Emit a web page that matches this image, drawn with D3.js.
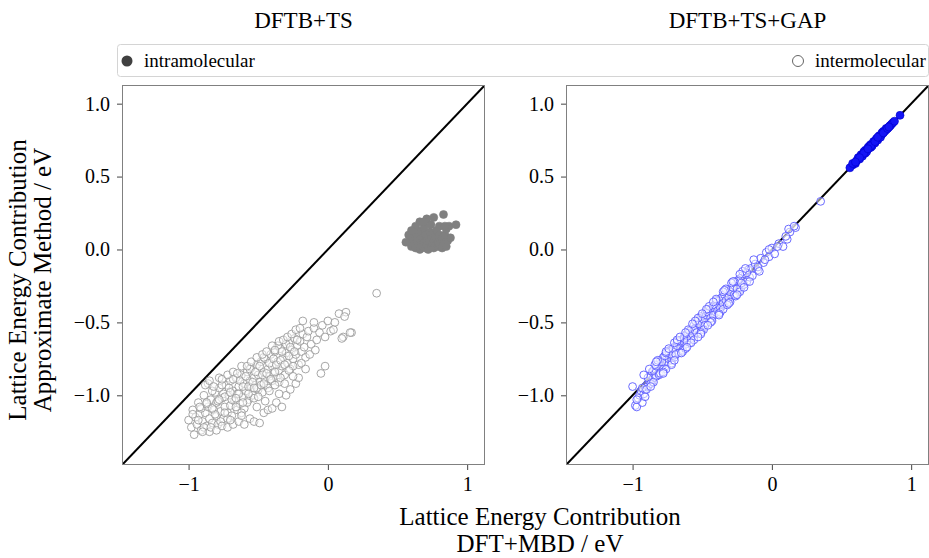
<!DOCTYPE html>
<html>
<head>
<meta charset="utf-8">
<script src="https://cdn.jsdelivr.net/npm/d3@7"></script>
<style>
  body { margin: 0; background: #fff; }
  svg { display: block; font-family: "Liberation Serif", "DejaVu Serif", serif; }
</style>
</head>
<body>
<div id="chart"></div>
<script>
// intermolecular contributions: DFT+MBD reference, DFTB+TS, DFTB+TS+GAP (eV)
const interDft = [
  -1.00,-0.98,-0.97,-0.96,-0.95,-0.94,-0.93,-0.92,-0.91,-0.90,
  -0.89,-0.88,-0.87,-0.86,-0.86,-0.85,-0.84,-0.83,-0.82,-0.81,
  -0.80,-0.80,-0.79,-0.78,-0.77,-0.76,-0.75,-0.75,-0.74,-0.73,
  -0.72,-0.71,-0.70,-0.70,-0.69,-0.68,-0.67,-0.66,-0.65,-0.65,
  -0.64,-0.63,-0.62,-0.61,-0.60,-0.60,-0.59,-0.58,-0.57,-0.56,
  -0.55,-0.55,-0.54,-0.53,-0.52,-0.51,-0.50,-0.50,-0.49,-0.48,
  -0.47,-0.46,-0.45,-0.45,-0.44,-0.43,-0.42,-0.41,-0.40,-0.40,
  -0.39,-0.38,-0.37,-0.36,-0.35,-0.34,-0.33,-0.32,-0.31,-0.30,
  -0.29,-0.28,-0.27,-0.26,-0.25,-0.24,-0.23,-0.22,-0.21,-0.20,
  -0.19,-0.18,-0.17,-0.16,-0.15,-0.14,-0.12,-0.10,-0.08,-0.06,
  -0.04,-0.02,0.00,0.02,0.05,0.08,0.11,0.13,0.17,0.35,
  -0.05,-0.02,0.04,0.10,0.12,0.16,-0.18,-0.10,
  -0.93,-0.91,-0.89,-0.87,-0.85,-0.83,-0.81,-0.79,-0.77,-0.76,
  -0.74,-0.72,-0.71,-0.69,-0.68,-0.66,-0.64,-0.63,-0.62,-0.61,
  -0.59,-0.58,-0.57,-0.56,-0.54,-0.53,-0.52,-0.51,-0.49,-0.48,
  -0.47,-0.46,-0.44,-0.43,-0.42,-0.41,-0.39,-0.38,-0.37,-0.36,
  -0.35,-0.34,-0.33,-0.31,-0.30,-0.28,-0.27,-0.25,-0.24,-0.22,
  -0.90,-0.84,-0.80,-0.76,-0.72,-0.68,-0.64,-0.60,-0.56,-0.53,
  -0.49,-0.46,-0.43,-0.40,-0.37,-0.33,-0.30,-0.27,-0.23,-0.21,
  -0.62,-0.70,-0.51,-0.45,-0.35,
  -0.88,-0.85,-0.82,-0.78,-0.76,-0.72,-0.68,-0.65,-0.62,-0.58,
  -0.55,-0.51,-0.47,-0.44,-0.40,-0.38,-0.35,-0.32,-0.29,-0.26,
  -0.23,-0.20,
  -0.97,-0.92,-0.87,-0.83,-0.78,-0.74,-0.70,-0.66,-0.61,-0.57,
  -0.53,-0.50,-0.46,-0.42,-0.38,-0.34,-0.31,-0.28,-0.25,-0.19,
  -0.16,-0.13,-0.09
];
const interTs = [
  -1.17,-1.22,-1.10,-1.27,-1.15,-1.20,-1.05,-1.13,-1.24,-1.18,
  -1.00,-1.12,-1.21,-1.08,-0.92,-1.16,-1.03,-1.19,-1.10,-0.98,
  -1.14,-1.05,-1.20,-0.95,-1.11,-1.02,-1.16,-0.99,-1.08,-0.93,
  -1.12,-1.00,-0.90,-1.07,-1.14,-0.97,-1.04,-0.88,-1.10,-0.99,
  -0.94,-1.06,-0.86,-1.01,-0.92,-1.09,-0.97,-0.84,-1.03,-0.90,
  -0.95,-0.81,-1.00,-0.88,-0.93,-0.79,-0.96,-0.86,-0.91,-0.77,
  -0.98,-0.84,-0.89,-0.75,-0.93,-0.82,-0.87,-0.72,-0.90,-0.80,
  -0.85,-0.70,-0.88,-0.77,-0.83,-0.68,-0.80,-0.74,-0.86,-0.71,
  -0.78,-0.64,-0.82,-0.69,-0.75,-0.61,-0.72,-0.66,-0.79,-0.63,
  -0.70,-0.58,-0.67,-0.74,-0.60,-0.56,-0.65,-0.54,-0.62,-0.57,
  -0.52,-0.60,-0.49,-0.56,-0.50,-0.44,-0.60,-0.43,-0.57,-0.30,
  -0.85,-0.80,-0.55,-0.61,-0.46,-0.57,-0.49,-0.50,
  -1.17,-1.09,-1.22,-1.06,-1.25,-0.97,-1.13,-1.04,-1.18,-0.93,
  -1.01,-1.16,-0.95,-1.03,-0.89,-1.08,-0.99,-0.90,-1.12,-0.94,
  -0.87,-1.05,-0.94,-0.82,-0.91,-1.02,-0.84,-0.95,-0.80,-0.93,
  -0.86,-0.74,-0.85,-0.95,-0.78,-0.89,-0.75,-0.84,-0.79,-0.66,
  -0.91,-0.76,-0.70,-0.79,-0.65,-0.73,-0.67,-0.80,-0.70,-0.62,
  -1.25,-1.22,-1.24,-1.21,-1.22,-1.20,-1.18,-1.20,-1.16,-1.18,
  -1.19,-1.12,-1.10,-1.09,-1.05,-1.08,-1.00,-0.96,-0.92,-0.88,
  -1.14,-1.17,-1.08,-1.04,-0.99,
  -0.93,-0.90,-0.94,-0.88,-0.89,-0.86,-0.84,-0.85,-0.80,-0.80,
  -0.77,-0.74,-0.72,-0.70,-0.66,-0.69,-0.63,-0.62,-0.60,-0.58,
  -0.55,-0.54,
  -1.13,-1.08,-1.05,-1.09,-1.03,-1.12,-0.98,-1.02,-1.05,-0.99,
  -0.95,-1.01,-0.92,-0.97,-0.93,-0.88,-0.92,-0.83,-0.87,-0.78,
  -0.82,-0.72,-0.69
];
const interGap = [
  -0.94,-1.07,-1.08,-1.02,-1.00,-0.97,-1.05,-0.99,-0.96,-0.93,
  -0.94,-0.90,-0.86,-0.91,-0.84,-0.88,-0.82,-0.87,-0.79,-0.85,
  -0.76,-0.82,-0.80,-0.74,-0.81,-0.78,-0.71,-0.77,-0.75,-0.69,
  -0.76,-0.73,-0.67,-0.74,-0.70,-0.64,-0.71,-0.68,-0.62,-0.67,
  -0.66,-0.60,-0.65,-0.58,-0.62,-0.57,-0.64,-0.55,-0.60,-0.52,
  -0.58,-0.54,-0.50,-0.56,-0.49,-0.53,-0.47,-0.55,-0.51,-0.44,
  -0.50,-0.46,-0.42,-0.48,-0.41,-0.47,-0.39,-0.44,-0.36,-0.43,
  -0.37,-0.41,-0.34,-0.39,-0.32,-0.38,-0.30,-0.36,-0.28,-0.34,
  -0.27,-0.32,-0.25,-0.30,-0.22,-0.29,-0.20,-0.26,-0.18,-0.24,
  -0.17,-0.22,-0.14,-0.19,-0.13,-0.18,-0.10,-0.14,-0.06,-0.09,
  -0.02,-0.05,0.01,-0.03,0.04,0.02,0.07,0.12,0.15,0.33,
  -0.07,0.00,0.02,0.09,0.14,0.16,-0.16,-0.12,
  -0.95,-1.01,-0.88,-0.92,-0.83,-0.80,-0.86,-0.77,-0.73,-0.82,
  -0.70,-0.72,-0.68,-0.72,-0.66,-0.63,-0.69,-0.61,-0.59,-0.63,
  -0.56,-0.61,-0.58,-0.55,-0.57,-0.49,-0.51,-0.46,-0.48,-0.52,
  -0.45,-0.43,-0.47,-0.40,-0.45,-0.38,-0.42,-0.35,-0.40,-0.33,
  -0.37,-0.31,-0.35,-0.33,-0.29,-0.26,-0.31,-0.27,-0.21,-0.23,
  -0.96,-0.79,-0.85,-0.71,-0.78,-0.63,-0.70,-0.55,-0.62,-0.47,
  -0.55,-0.41,-0.49,-0.35,-0.43,-0.27,-0.36,-0.22,-0.29,-0.15,
  -0.68,-0.64,-0.57,-0.39,-0.41,
  -0.82,-0.91,-0.76,-0.84,-0.70,-0.79,-0.62,-0.71,-0.57,-0.64,
  -0.49,-0.58,-0.41,-0.50,-0.34,-0.44,-0.29,-0.38,-0.23,-0.32,
  -0.17,-0.26,
  -1.03,-0.86,-0.94,-0.77,-0.85,-0.68,-0.76,-0.60,-0.67,-0.51,
  -0.60,-0.44,-0.52,-0.36,-0.45,-0.28,-0.37,-0.22,-0.31,-0.13,
  -0.22,-0.07,-0.15
];

// intramolecular contributions
const intraDft = [
  0.58,0.60,0.61,0.62,0.62,0.63,0.64,0.64,0.65,0.65,
  0.66,0.66,0.67,0.67,0.68,0.68,0.69,0.69,0.70,0.70,
  0.71,0.71,0.72,0.72,0.73,0.73,0.74,0.74,0.75,0.75,
  0.76,0.76,0.77,0.77,0.78,0.78,0.79,0.79,0.80,0.80,
  0.81,0.82,0.82,0.83,0.84,0.85,0.86,0.66,0.71,0.74,
  0.76,0.80,0.83,0.85,0.87,0.92,0.63,0.69,
  0.56,0.58,0.88,0.60,0.84
];
const intraTs = [
  0.05,0.02,0.08,0.04,0.11,0.01,0.06,0.13,0.03,0.09,
  0.00,0.07,0.04,0.12,0.02,0.08,0.05,0.15,0.01,0.10,
  0.06,0.03,0.09,0.00,0.05,0.12,0.02,0.08,0.04,0.11,
  0.06,0.01,0.09,0.03,0.07,0.13,0.02,0.05,0.10,0.03,
  0.06,0.01,0.08,0.04,0.10,0.02,0.06,0.19,0.21,0.17,
  0.22,0.16,0.24,0.14,0.16,0.17,0.16,0.19,
  0.05,0.10,0.08,0.13,0.16
];
const intraGap = [
  0.58,0.59,0.61,0.62,0.63,0.62,0.64,0.65,0.65,0.64,
  0.66,0.67,0.66,0.68,0.68,0.67,0.69,0.70,0.70,0.71,
  0.70,0.72,0.72,0.71,0.73,0.74,0.74,0.73,0.75,0.76,
  0.76,0.75,0.77,0.78,0.78,0.77,0.79,0.80,0.80,0.81,
  0.81,0.82,0.83,0.83,0.84,0.85,0.86,0.66,0.71,0.74,
  0.77,0.80,0.83,0.85,0.87,0.92,0.63,0.69,
  0.56,0.59,0.88,0.60,0.84
];

const titles = ["DFTB+TS", "DFTB+TS+GAP"];
const xTicks = [-1, 0, 1];
const yTicks = [-1.0, -0.5, 0.0, 0.5, 1.0];
const limits = [-1.478, 1.128];

const width = 929;
const height = 558;
const plotW = 363, plotH = 380, plotTop = 85;
const lefts = [122, 566];

const panels = [
  { title: titles[0], left: lefts[0], inter: interTs, intra: intraTs,
    interStroke: "#9c9c9c", intraFill: "#808080", intraStroke: "#808080" },
  { title: titles[1], left: lefts[1], inter: interGap, intra: intraGap,
    interStroke: "#5a5aff", intraFill: "#1414f5", intraStroke: "#0000cc" }
];

const svg = d3.select("#chart").append("svg")
    .attr("width", width)
    .attr("height", height);

const x = d3.scaleLinear().domain(limits).range([0, plotW]);
const y = d3.scaleLinear().domain(limits).range([plotH, 0]);

// legend spanning both panels
const legend = svg.append("g");
legend.append("rect")
    .attr("x", 117.5).attr("y", 44.5)
    .attr("width", 811).attr("height", 32)
    .attr("rx", 3)
    .attr("fill", "#fff")
    .attr("stroke", "#d4d4d4");
legend.append("circle")
    .attr("cx", 127).attr("cy", 61).attr("r", 5.5)
    .attr("fill", "#404040");
legend.append("text")
    .attr("x", 144).attr("y", 66.5)
    .style("font-size", "19px")
    .text("intramolecular");
legend.append("circle")
    .attr("cx", 798).attr("cy", 61).attr("r", 5.5)
    .attr("fill", "#fff").attr("stroke", "#555").attr("stroke-width", 0.9);
legend.append("text")
    .attr("x", 815).attr("y", 66.5)
    .style("font-size", "19px")
    .text("intermolecular");

panels.forEach((p, i) => {
  const g = svg.append("g").attr("transform", `translate(${p.left},${plotTop})`);

  svg.append("text")
      .attr("x", p.left + plotW / 2).attr("y", 28)
      .attr("text-anchor", "middle")
      .style("font-size", "23px")
      .text(p.title);

  g.append("clipPath").attr("id", "clip" + i)
    .append("rect").attr("width", plotW).attr("height", plotH);

  const plot = g.append("g").attr("clip-path", `url(#clip${i})`);

  plot.append("line")
      .attr("x1", x(limits[0])).attr("y1", y(limits[0]))
      .attr("x2", x(limits[1])).attr("y2", y(limits[1]))
      .attr("stroke", "#000").attr("stroke-width", 2);

  plot.append("g").selectAll("circle")
    .data(interDft.map((d, k) => [d, p.inter[k]]))
    .join("circle")
      .attr("cx", d => x(d[0]))
      .attr("cy", d => y(d[1]))
      .attr("r", 3.9)
      .attr("fill", "#fff").attr("fill-opacity", 0.5)
      .attr("stroke", p.interStroke).attr("stroke-width", 0.9);

  plot.append("g").selectAll("circle")
    .data(intraDft.map((d, k) => [d, p.intra[k]]))
    .join("circle")
      .attr("cx", d => x(d[0]))
      .attr("cy", d => y(d[1]))
      .attr("r", 4)
      .attr("fill", p.intraFill)
      .attr("stroke", p.intraStroke).attr("stroke-width", 0.6);

  // spines
  g.append("rect")
      .attr("x", 0.5).attr("y", 0.5)
      .attr("width", plotW - 1).attr("height", plotH - 1)
      .attr("fill", "none").attr("stroke", "#808080");

  const xAxis = g.append("g")
      .attr("transform", `translate(0,${plotH})`)
      .call(d3.axisBottom(x).tickValues(xTicks).tickFormat(d3.format("d")).tickSize(5).tickPadding(7));
  const yAxis = g.append("g")
      .call(d3.axisLeft(y).tickValues(yTicks).tickFormat(d3.format(".1f")).tickSize(5).tickPadding(7));

  [xAxis, yAxis].forEach(a => {
    a.select(".domain").remove();
    a.selectAll("line").attr("stroke", "#444");
    a.selectAll("text")
        .attr("fill", "#000")
        .style("font-size", "20px")
        .style("font-family", "Liberation Serif, serif");
  });
});

// axis titles
svg.append("text")
    .attr("text-anchor", "middle")
    .style("font-size", "25px")
  .selectAll("tspan")
  .data(["Lattice Energy Contribution", "DFT+MBD / eV"])
  .join("tspan")
    .attr("x", 540)
    .attr("y", (d, i) => 525 + i * 27)
    .text(d => d);

svg.append("text")
    .attr("text-anchor", "middle")
    .attr("transform", "translate(0,280) rotate(-90)")
    .style("font-size", "25px")
  .selectAll("tspan")
  .data(["Lattice Energy Contribution", "Approximate Method / eV"])
  .join("tspan")
    .attr("x", 0)
    .attr("y", (d, i) => 26 + i * 25)
    .text(d => d);
</script>
</body>
</html>
